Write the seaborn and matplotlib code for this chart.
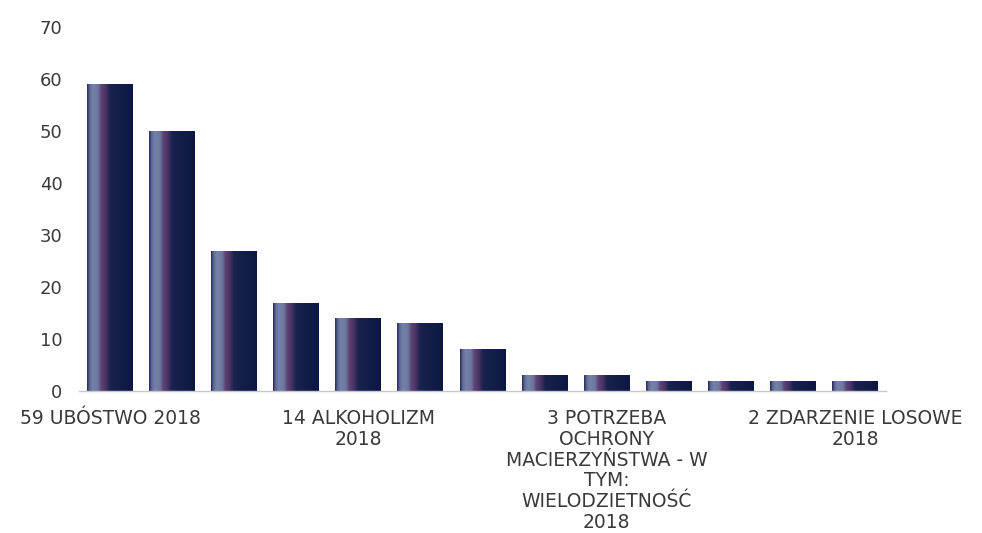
import numpy as np
import pandas as pd
import matplotlib
matplotlib.use('Agg')
import matplotlib.pyplot as plt
from matplotlib.colors import LinearSegmentedColormap
import seaborn as sns

# data
values = [59, 50, 27, 17, 14, 13, 8, 3, 3, 2, 2, 2, 2]
tick_labels = [
    '59 UBÓSTWO 2018', '', '', '', '14 ALKOHOLIZM\n2018', '', '', '',
    '3 POTRZEBA\nOCHRONY\nMACIERZYŃSTWA - W\nTYM:\nWIELODZIETNOŚĆ\n2018',
    '', '', '', '2 ZDARZENIE LOSOWE\n2018',
]
y_ticks = [0, 10, 20, 30, 40, 50, 60, 70]

df = pd.DataFrame({'pos': range(len(values)), 'value': values})

sns.set_style('white')
plt.rcParams['font.family'] = ['DejaVu Sans']

fig = plt.figure(figsize=(9.82, 5.33), dpi=100)
ax = fig.add_axes([79 / 982, 1 - 391 / 533, (886 - 79) / 982, (391 - 27) / 533])

sns.barplot(data=df, x='pos', y='value', color='#121c48', width=0.74,
            saturation=1, ax=ax, order=list(range(len(values))))

# shaded cylinder-like fill inside every bar
cmap = LinearSegmentedColormap.from_list('bar', [
    (0.0, '#2a2d5a'), (0.05, '#5d6a96'), (0.12, '#7682a8'), (0.24, '#6c779e'),
    (0.31, '#5e4272'), (0.4, '#4a3566'), (0.5, '#1a224f'), (1.0, '#0c1843')])
grad = np.linspace(0, 1, 64).reshape(1, -1)
for patch in ax.patches:
    x0, y0 = patch.get_x(), patch.get_y()
    w, h = patch.get_width(), patch.get_height()
    im = ax.imshow(grad, cmap=cmap, aspect='auto', extent=[x0, x0 + w, y0, y0 + h],
                   zorder=patch.get_zorder() + 0.1)
    im.set_clip_path(patch)

ax.set_xlim(-0.5, len(values) - 0.5)
ax.set_ylim(0, 70)
ax.set_yticks(y_ticks)
ax.set_xticks(range(len(values)))
ax.set_xticklabels(tick_labels, fontsize=13.5, color='#3a3a3a', linespacing=1.12)
ax.tick_params(axis='y', labelsize=13, labelcolor='#3a3a3a', length=0, pad=12)
ax.tick_params(axis='x', length=0, pad=13)
ax.set_xlabel('')
ax.set_ylabel('')

sns.despine(ax=ax, left=True)
ax.spines['bottom'].set_color('#c8c8c8')
ax.spines['bottom'].set_linewidth(1)

fig.savefig('out.png', dpi=100)
